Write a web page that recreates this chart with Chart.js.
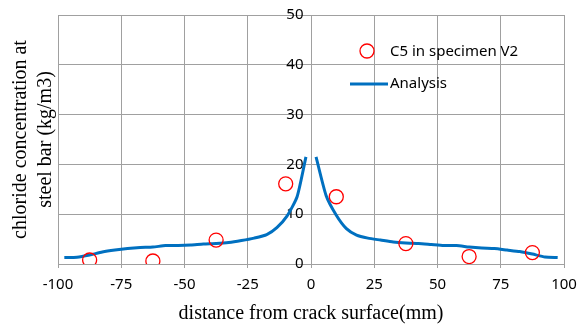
<!DOCTYPE html>
<html>
<head>
<meta charset="utf-8">
<script src="https://cdn.jsdelivr.net/npm/chart.js@4.4.1/dist/chart.umd.min.js"></script>
<style>
  html, body { margin: 0; padding: 0; background: #fff; }
  #wrap { width: 577px; height: 326px; }
</style>
</head>
<body>
<div id="wrap"><canvas id="chlorideChart" width="577" height="326"></canvas></div>
<script>
// measured values (C5 in specimen V2)
const testX = [-87.5, -62.5, -37.5, -10, 10, 37.5, 62.5, 87.5];
const testY = [0.8, 0.6, 4.8, 16.1, 13.5, 4.1, 1.5, 2.3];

// analysis curve, null at the crack splits it into two branches
const analysisX = [-97.5, -92.5, -87.5, -82.5, -77.5, -72.5, -67.5, -62.5, -57.5, -52.5,
    -47.5, -42.5, -37.5, -32.5, -27.5, -22.5, -17.5, -13.5, -9.5, -5.5, -2,
    0,
    2, 6, 10, 14, 18, 22.5, 27.5, 32.5, 37.5, 42.5, 47.5, 52.5, 57.5, 62.5,
    67.5, 72.5, 77.5, 82.5, 87.5, 92.5, 97.5];
const analysisY = [1.3, 1.35, 1.8, 2.4, 2.8, 3.1, 3.3, 3.4, 3.7, 3.7,
    3.8, 4.0, 4.1, 4.3, 4.7, 5.2, 5.9, 7.3, 9.6, 13.5, 21.5,
    null,
    21.5, 13.7, 9.8, 7.1, 5.8, 5.2, 4.8, 4.4, 4.2, 4.1, 3.9, 3.7, 3.7, 3.4,
    3.2, 3.1, 2.8, 2.5, 2.0, 1.4, 1.3];

const xTicks = [-100, -75, -50, -25, 0, 25, 50, 75, 100];
const yTicks = [0, 10, 20, 30, 40, 50];

const gridColor = '#a0a0a0';
const tickFont = { family: 'Noto Sans', size: 15 };
const titleFont = { family: 'Liberation Serif', size: 20 };

const toPoints = (xs, ys) => xs.map((x, i) => ({ x: x, y: ys[i] }));

// legend drawn inside the plot area, like the original
const insideLegend = {
    id: 'insideLegend',
    afterDatasetsDraw(chart) {
        const ctx = chart.ctx;
        const ds = chart.data.datasets;
        ctx.save();
        ctx.font = '15px "Noto Sans"';
        ctx.fillStyle = '#000';
        ctx.textBaseline = 'middle';
        ctx.textAlign = 'left';

        // marker entry
        ctx.beginPath();
        ctx.arc(367, 51, 7, 0, Math.PI * 2);
        ctx.strokeStyle = ds[0].borderColor;
        ctx.lineWidth = ds[0].borderWidth;
        ctx.stroke();
        ctx.fillText(ds[0].label, 390, 52);

        // line entry
        ctx.beginPath();
        ctx.moveTo(350, 84);
        ctx.lineTo(388, 84);
        ctx.strokeStyle = ds[1].borderColor;
        ctx.lineWidth = ds[1].borderWidth;
        ctx.stroke();
        ctx.fillText(ds[1].label, 390, 84);
        ctx.restore();
    }
};

new Chart(document.getElementById('chlorideChart'), {
    type: 'scatter',
    data: {
        datasets: [
            {
                label: 'C5 in specimen V2',
                data: toPoints(testX, testY),
                borderColor: '#ff0000',
                backgroundColor: 'rgba(0,0,0,0)',
                borderWidth: 1.3,
                pointRadius: 7,
                pointHoverRadius: 7,
                order: 1
            },
            {
                label: 'Analysis',
                data: toPoints(analysisX, analysisY),
                showLine: true,
                spanGaps: false,
                borderColor: '#0070c0',
                backgroundColor: '#0070c0',
                borderWidth: 3,
                pointRadius: 0,
                tension: 0.2,
                order: 2
            }
        ]
    },
    options: {
        responsive: false,
        animation: false,
        layout: { padding: { top: 15, right: 13, left: 0, bottom: 0 } },
        plugins: {
            legend: { display: false },
            tooltip: { enabled: false }
        },
        scales: {
            x: {
                type: 'linear',
                position: 'bottom',
                min: -100,
                max: 100,
                afterBuildTicks: (axis) => { axis.ticks = xTicks.map(v => ({ value: v })); },
                // let the layout padding decide the plot edges, not the end labels
                afterFit: (axis) => { axis.paddingLeft = 0; axis.paddingRight = 0; },
                grid: { color: gridColor, tickLength: 4, drawTicks: true },
                border: { color: gridColor },
                ticks: { color: '#000', font: tickFont, padding: 8, maxRotation: 0 },
                title: {
                    display: true,
                    text: 'distance from crack surface(mm)',
                    color: '#000',
                    font: titleFont,
                    padding: { top: 0, bottom: 0 }
                }
            },
            y: {
                type: 'linear',
                position: { x: 0 },
                min: 0,
                max: 50,
                afterBuildTicks: (axis) => { axis.ticks = yTicks.map(v => ({ value: v })); },
                grid: { color: gridColor, tickLength: 4 },
                border: { color: gridColor },
                // a centred axis ignores ticks.padding, so keep the gap with an en space
                ticks: { color: '#000', font: tickFont, callback: (v) => v + '\u2002' }
            },
            yTitle: {
                type: 'linear',
                position: 'left',
                display: true,
                grid: { display: false, drawTicks: false },
                border: { display: false },
                ticks: { display: false },
                title: {
                    display: true,
                    text: ['chloride concentration at', 'steel bar (kg/m3)'],
                    color: '#000',
                    font: { family: 'Liberation Serif', size: 20, lineHeight: 1.25 },
                    padding: { top: 8, bottom: 0 }
                }
            }
        }
    },
    plugins: [insideLegend]
});
</script>
</body>
</html>
